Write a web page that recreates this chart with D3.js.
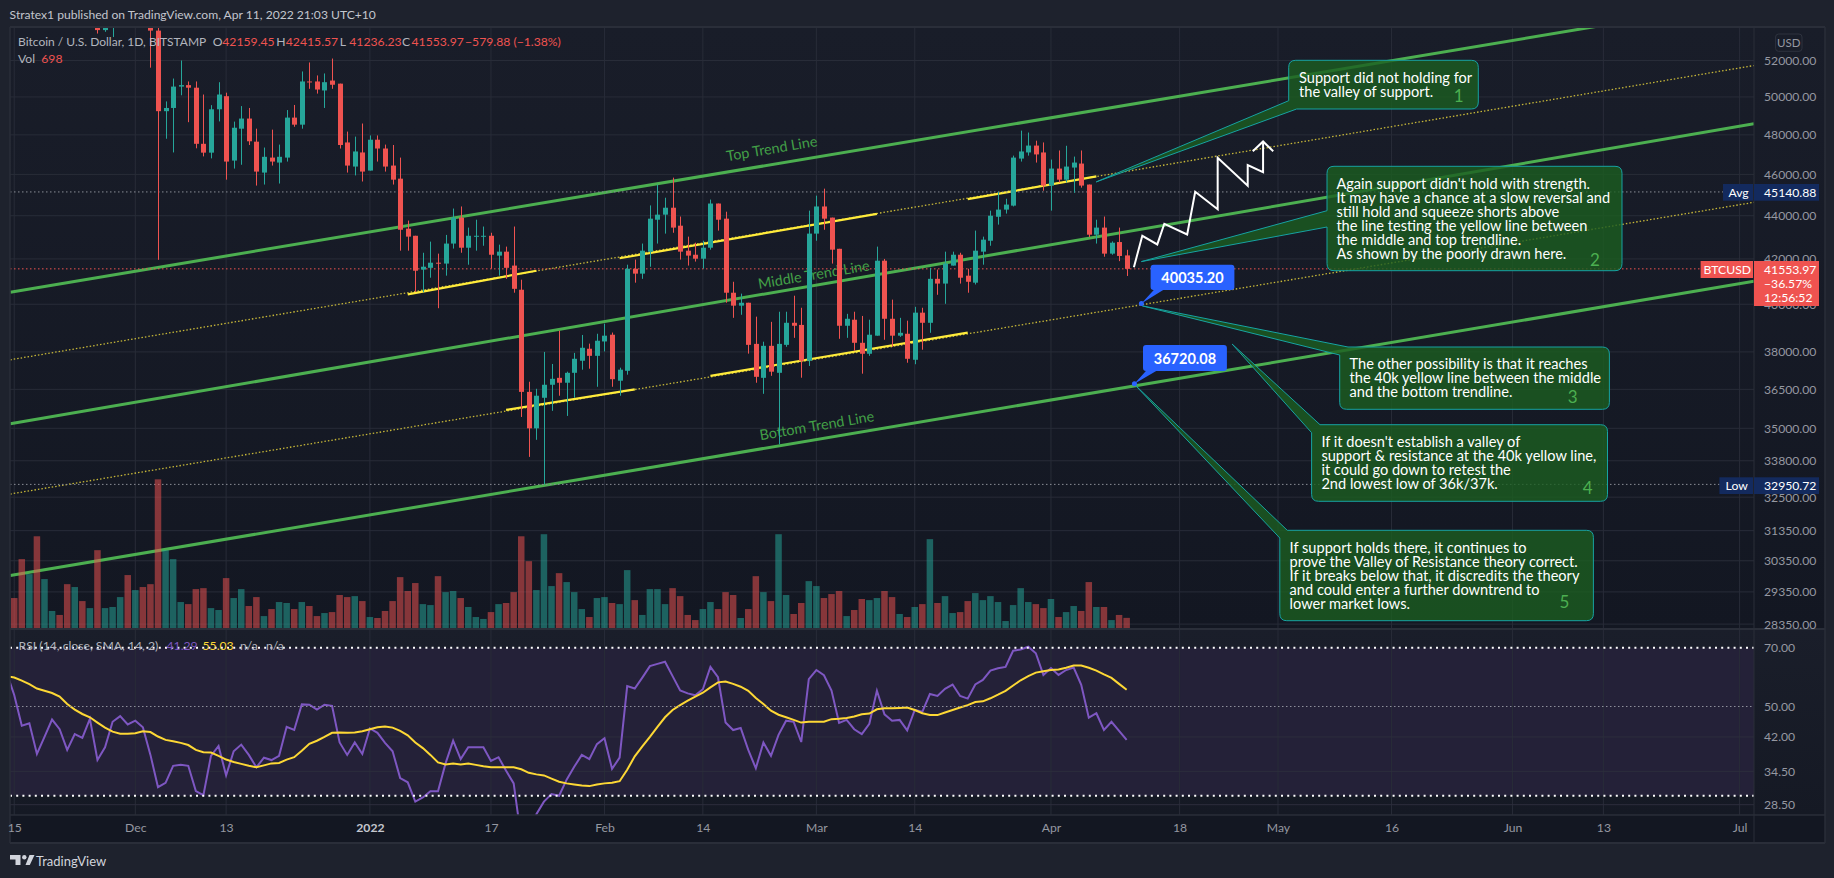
<!DOCTYPE html>
<html><head><meta charset="utf-8">
<script src="https://cdn.jsdelivr.net/npm/d3@7/dist/d3.min.js"></script>
<style>html,body{margin:0;padding:0;background:#1e222d;overflow:hidden}svg{display:block}text{font-family:Lato,"Open Sans",sans-serif}</style>
</head><body><svg id="c" width="1834" height="878"></svg>
<script>
// ---------- data ----------
const headerText = "Stratex1 published on TradingView.com, Apr 11, 2022 21:03 UTC+10";
const firstCandleDay = -16; // Nov 15 2021, in days from Dec 1 2021
const candleOpen = [65500,63600,60300,60400,56900,58100,59700,58700,56300,57600,57200,58900,53730,54700,57200,57800,
56950,57200,56500,53700,49240,49410,50560,50640,50500,47540,47090,49340,50040,46690,48320,48850,47650,46090,46840,46590,46840,48900,48530,50840,50840,50350,50890,50720,47610,46390,47100,
46190,47750,47300,46440,45790,43390,43060,41520,41600,41830,41790,42700,43910,42510,43020,43020,43060,42150,42330,41700,40630,36400,35000,36170,36680,36955,36760,37155,37640,38130,37840,
38430,38710,36840,37235,41560,41340,42330,43810,44050,44380,43530,42375,42190,42010,42510,44580,43860,40500,39940,40065,38330,36955,38250,37155,38290,39210,39120,37640,
43160,44440,43910,42460,39085,39340,38375,37925,38670,41920,39380,38670,38750,37680,39640,39210,41110,40900,41700,42190,41250,40940,42330,42830,43950,44290,44480,46790,47100,47450,47100,
45450,46290,45740,46340,46540,45500,43110,43440,42240,42770,42159.45];
const candleHigh = [66300,63600,61000,60900,58400,59900,60000,59500,58000,57800,59500,59200,55300,57400,58800,59200,
59000,57400,57600,53860,49760,51000,52000,50840,50840,50130,49560,50800,50230,48690,49510,49410,48320,47350,48270,47500,49300,49570,51390,51890,51170,51280,52110,50720,48170,47910,48590,
47970,47970,47500,47480,46840,43770,43060,42280,42790,42240,43100,44340,44440,43440,43810,43490,43200,42650,42560,43490,41070,36800,36520,38000,37510,38880,37200,37960,38700,38340,38750,
39170,38800,37360,41740,41970,42700,44490,45500,44860,45840,43960,43020,42740,42830,44770,44580,44190,40980,40460,40065,39470,38420,39250,39680,39680,40370,39850,44240,
44960,45300,43910,42460,39590,39680,39500,39340,42560,42000,40200,39420,39300,39890,39850,41600,41520,42330,42330,42280,41560,43300,43020,44240,45150,44810,46940,48220,48120,47700,47610,
46740,47200,47440,46890,47200,45500,43810,43960,42800,43440,42415.57];
const candleLow = [63500,58600,58400,56500,55600,57400,58500,55700,55400,55900,57000,53530,53630,53330,56700,55900,
56500,55800,51600,41960,47800,47100,50090,48660,47310,46900,46800,48700,45740,46290,46480,47480,45450,45500,46440,45550,46640,48420,48320,50440,50180,49410,50440,47300,46090,45950,45650,
46190,46640,46140,45500,42375,42375,40540,40520,41160,39830,41250,42470,42280,41740,42375,42600,41560,41250,41110,40500,35430,33940,34570,32950,35665,36250,35470,36170,37280,37320,36600,
38020,36600,36250,37080,40940,41110,41650,42700,43160,43200,41970,41700,41880,41560,42420,43300,40065,39420,39550,37930,36760,36325,37035,34400,38210,38580,36960,37430,
42830,43340,41790,38540,38580,38050,37120,37840,38670,38500,38210,38620,37560,37500,38090,38790,40410,40020,41700,40900,40500,40860,41740,42600,43580,44100,44440,46640,46940,46590,45200,
44240,45600,45600,45100,45350,43000,42700,42100,42190,41900,41236.23];
const candleClose = [63600,60300,60400,56900,58100,59700,58700,56300,57600,57200,58900,53730,54700,57200,57800,56950,
57200,56500,53700,49240,49410,50560,50640,50500,47540,47090,49340,50130,46640,48370,48850,47670,46140,46880,46640,46880,48900,48530,50840,50790,50400,50800,50660,47480,46440,47150,46140,
47750,47300,46390,45740,43340,43020,41470,41650,41830,41790,42700,43910,42510,43060,43060,43060,42190,42330,41600,40670,36400,35000,36250,36680,36915,36760,37155,37720,38170,37840,38460,
38670,36900,37280,41560,41340,42375,43860,44050,44380,43440,42330,42150,42010,42510,44580,43810,40500,39940,40065,38290,36995,38250,37200,38330,39210,39085,37640,43160,
44440,43860,42420,39085,39380,38375,37925,38710,41920,39380,38670,38790,37720,39640,39210,41110,40900,41790,42190,41160,40980,42375,42880,44000,44290,44530,46840,47150,47450,47000,45450,
46290,45740,46390,46590,45450,43110,43440,42240,42740,42133.85,41553.97];
const volumes = [1940,4380,3440,5810,3130,1130,880,2810,2630,1750,1310,4940,1310,1380,2000,3380,
2440,2630,2810,9380,4940,4380,1690,1560,2500,2560,1310,1190,3190,1940,2500,1440,2000,810,1250,1690,1630,1250,1690,1440,810,1000,1060,2130,2000,2060,1750,
750,690,1130,1750,3250,2380,2880,1560,1500,3310,2310,2380,1940,1380,750,630,1060,1560,1630,2310,5810,4250,2440,5940,2690,3500,2940,2310,1250,750,1940,
2000,1630,1560,3690,1810,880,2500,2500,1560,2560,2060,880,560,1250,1690,1250,2310,2130,690,1250,3310,2310,1750,5940,2130,940,1630,3000,
2690,1940,2190,2380,810,1190,1880,1810,1940,2380,2000,940,750,1380,1560,5630,1630,2060,1000,1060,1750,2250,1810,2060,1690,500,1500,2560,1690,1560,1310,
1880,750,1060,1440,1130,2940,1380,1380,560,880,698];
const firstRsiDay = -17; // Nov 14 2021
const rsiValues = [60.7,53.4,44.8,45.4,38.1,42.0,46.4,43.9,39.0,42.7,41.8,46.6,36.8,39.6,45.8,47.3,45.1,
46.1,44.4,37.9,31.5,32.3,35.6,35.8,35.6,30.8,30.1,37.7,39.9,33.7,38.7,40.2,37.9,35.3,37.3,36.8,37.7,44.5,43.7,50.6,50.5,49.1,50.5,50.2,40.7,37.9,40.7,38.1,
44.1,43.0,40.6,38.7,33.2,32.4,29.0,29.7,30.8,30.8,36.1,41.1,37.0,39.6,39.6,39.6,36.6,37.4,34.6,32.2,23.5,22.0,27.0,29.0,30.3,30.0,32.9,35.4,37.9,37.0,40.3,
41.7,35.0,37.3,56.2,55.4,59.0,63.0,63.8,64.6,59.5,54.8,53.9,53.3,55.2,62.7,59.1,45.6,43.7,44.2,39.0,35.1,40.7,37.7,42.5,46.1,45.8,40.8,58.5,
61.6,59.8,54.8,45.5,46.3,43.9,42.7,45.3,54.7,47.8,46.1,46.3,43.6,49.0,48.5,53.7,53.1,55.3,56.7,53.1,52.3,56.7,58.2,61.4,62.2,62.7,68.8,69.3,70.4,67.8,59.9,
62.3,59.9,61.6,62.5,56.6,46.9,48.1,43.7,45.8,43.5,41.29];
const rsiSmaValues = [59.5,59.0,58.0,56.8,55.4,54.7,54.0,52.9,50.7,49.1,47.9,47.0,45.6,44.3,43.3,42.8,42.8,
42.9,43.4,43.2,42.1,41.3,41.0,40.6,40.1,39.0,38.5,38.4,37.7,36.9,36.4,36.0,35.6,35.3,35.7,36.1,36.2,36.9,37.4,38.8,40.4,41.1,42.0,43.0,43.1,43.0,43.1,43.4,
43.9,44.4,44.6,44.3,43.5,42.4,40.7,39.4,37.9,36.3,35.9,36.1,35.9,36.1,35.8,35.5,35.3,35.3,35.3,35.3,34.9,34.2,33.9,33.7,33.1,32.5,32.2,32.0,31.8,31.7,32.0,
32.2,32.3,32.6,34.8,37.6,39.8,42.0,44.5,47.0,49.0,50.4,51.7,52.9,54.1,55.8,57.4,57.7,56.9,56.0,54.7,52.5,50.7,48.8,47.7,47.0,46.3,45.6,45.8,
45.8,45.8,46.5,46.6,46.8,47.2,47.8,48.0,49.2,49.5,49.5,49.6,49.7,49.0,48.1,47.6,47.6,48.3,49.0,49.7,50.4,51.3,51.5,52.4,53.5,54.7,56.4,58.1,59.5,60.7,61.2,
61.6,61.8,62.4,63.2,63.2,62.4,61.4,60.1,58.9,56.9,55.03];
const priceTicks = [52000,50000,48000,46000,44000,42000,40000,38000,36500,35000,33800,32500,31350,30350,29350,28350];
const rsiTicks = [70,50,42,34.5,28.5];
const timeTickDays = [-16,0,12,31,47,62,75,90,103,121,138,151,166,182,194,212];
const timeTickLabels = ["15","Dec","13","2022","17","Feb","14","Mar","14","Apr","18","May","16","Jun","13","Jul"];
// trend lines: [[day, price],[day, price]]
const channelDays = [-16.52, 213.9];
const topTrend = [40524,55500], middleTrend = [35170,48580], bottomTrend = [29870,41000];
const upperDotted = [37680,51720], lowerDotted = [32610,44640];
const yellowSegments = [[[36,40430],[53,41470]],[[49,35700],[66,36500]],[[64,42030],[98,44090]],[[110,44790],[127,45900]],[[76,37030],[110,38800]]];
const zigzag = [[131.96,41630],[133.07,43060],[135.05,42660],[135.98,43620],[139,43120],[140.06,45150],[143.03,44310],[143.03,46830],[147,45440],[147,46460],[149.03,46110],[149.03,47660]];
const zigzagHead = [[147.67,47160],[149.03,47660],[150.37,47160]];
const avgPrice = 45140.88, lowPrice = 32950.72, lastPrice = 41553.97;
const notes = [
 {box:[1288.7,60.3,1478.3,109],corner:"bl",a:[1288.7,100.7],b:[1296.6,109],tip:[126.98,45630],tx:1299,ty:77.3,num:"1",nx:1458.6,ny:95,
  lines:["Support did not holding for","the valley of support."]},
 {box:[1327,166.3,1622,270.7],corner:"l",a:[1327,210.7],b:[1327,227],tip:[132.95,41880],tx:1336.4,ty:183.3,num:"2",nx:1594.9,ny:259.3,
  lines:["Again support didn't hold with strength.","It may have a chance at a slow reversal and","still hold and squeeze shorts above","the line testing the yellow line between","the middle and top trendline.","As shown by the poorly drawn here."]},
 {box:[1339.7,347,1609.4,409.3],corner:"tl",a:[1339.7,355],b:[1348,347],tip:[133.07,39930],tx:1349.5,ty:363.3,num:"3",nx:1572.8,ny:396.7,
  lines:["The other possibility is that it reaches","the 40k yellow line between the middle","and the bottom trendline."]},
 {box:[1311.6,424.7,1607.5,501.3],corner:"tl",a:[1311.6,432.7],b:[1320,424.7],tip:[144.95,38320],tx:1321.4,ty:441.3,num:"4",nx:1587.8,ny:487.7,
  lines:["If it doesn't establish a valley of","support & resistance at the 40k yellow line,","it could go down to retest the","2nd lowest low of 36k/37k."]},
 {box:[1279.8,530.3,1593.4,620.7],corner:"tl",a:[1279.8,538],b:[1287.3,530.3],tip:[132.08,36680],tx:1289.6,ty:547.3,num:"5",nx:1564.4,ny:601.7,
  lines:["If support holds there, it continues to","prove the Valley of Resistance theory correct.","If it breaks below that, it discredits the theory","and could enter a further downtrend to","lower market lows."]}
];
const priceCallouts = [
 {label:"40035.20",day:132.95,price:40035.20,box:[1150.6,264.7,1234.4,290],base:[1153.8,1163.2]},
 {label:"36720.08",day:132.03,price:36720.08,box:[1143,345,1226.9,371],base:[1145.9,1156.2]}
];
// ---------- scales ----------
const FONT="Lato,'Open Sans',sans-serif";
const svg=d3.select("#c");
const day=d=>new Date(Date.UTC(2021,11,1)+d*864e5);
const x=d3.scaleUtc().domain([day(0),day(212)]).range([135.3,1739.6]);
const xd=d=>x(day(d));
const y=d3.scaleLog().domain([28350,52000]).range([624.1,60.5]);
const yV=d3.scaleLinear().domain([0,9400]).range([629,479]);
const yR=d3.scaleLog().domain([28.5,70]).range([804.7,647.7]);
const L=10,R=1754,PR=1825,T=27,MB=629,RB=815,TB=843;
// ---------- background ----------
const defs=svg.append("defs");
const grad=(id,a,b)=>{const g=defs.append("linearGradient").attr("id",id).attr("x1",0).attr("x2",0).attr("y1",0).attr("y2",1);
 g.append("stop").attr("offset",0).attr("stop-color",a);g.append("stop").attr("offset",1).attr("stop-color",b);};
grad("gMain","#191d29","#131722");grad("gRsi","#1a1e2a","#151924");
defs.append("clipPath").attr("id","cm").append("rect").attr("x",L).attr("y",T).attr("width",R-L).attr("height",MB-T);
defs.append("clipPath").attr("id","cr").append("rect").attr("x",L).attr("y",MB).attr("width",R-L).attr("height",RB-MB);
svg.append("rect").attr("width",1834).attr("height",878).attr("fill","#1e222d");
svg.append("rect").attr("x",L).attr("y",T).attr("width",PR-L).attr("height",MB-T).attr("fill","url(#gMain)");
svg.append("rect").attr("x",L).attr("y",MB).attr("width",PR-L).attr("height",RB-MB).attr("fill","url(#gRsi)");
svg.append("rect").attr("x",L).attr("y",RB).attr("width",PR-L).attr("height",TB-RB).attr("fill","#131722");
svg.append("rect").attr("x",L).attr("y",yR(70)).attr("width",R-L).attr("height",yR(30)-yR(70)).attr("fill","#242138");
// grid
const GRID="#282c38";
const grid=svg.append("g");
grid.selectAll("line.v").data(timeTickDays).join("line").attr("x1",d=>xd(d)).attr("x2",d=>xd(d)).attr("y1",T).attr("y2",RB).attr("stroke",GRID);
grid.selectAll("line.hm").data(priceTicks).join("line").attr("class","hm").attr("x1",L).attr("x2",R).attr("y1",d=>y(d)).attr("y2",d=>y(d)).attr("stroke",GRID);
grid.selectAll("line.hr").data(rsiTicks.filter(d=>d!==70&&d!==50)).join("line").attr("class","hr").attr("x1",L).attr("x2",R).attr("y1",d=>yR(d)).attr("y2",d=>yR(d)).attr("stroke","#2d2e3d");
// ---------- drawings under the series ----------
const main=svg.append("g").attr("clip-path","url(#cm)");
const lineP=d3.line().x(d=>xd(d[0])).y(d=>y(d[1]));
const chan=p=>[[channelDays[0],p[0]],[channelDays[1],p[1]]];
[upperDotted,lowerDotted].forEach(p=>main.append("path").attr("d",lineP(chan(p))).attr("stroke","#e6d43c").attr("stroke-opacity",.85).attr("stroke-width",1.3).attr("stroke-dasharray","1.5 2").attr("fill","none"));
[topTrend,middleTrend,bottomTrend].forEach(p=>main.append("path").attr("d",lineP(chan(p))).attr("stroke","#4caf50").attr("stroke-width",3).attr("fill","none"));
yellowSegments.forEach(s=>main.append("path").attr("d",lineP(s)).attr("stroke","#ffeb3b").attr("stroke-width",2.2).attr("fill","none"));
[[avgPrice,"#8a8d96"],[lowPrice,"#8a8d96"],[lastPrice,"#ef5350"]].forEach(([p,c])=>main.append("line").attr("x1",L).attr("x2",R).attr("y1",y(p)).attr("y2",y(p)).attr("stroke",c).attr("stroke-width",1).attr("stroke-dasharray","1.5 2.5"));
const trendLabels=[["Top Trend Line",772,150],["Middle Trend Line",814,276],["Bottom Trend Line",817,427]];
trendLabels.forEach(([t,a,b])=>main.append("text").text(t).attr("transform",`translate(${a},${b}) rotate(-9.5)`).attr("text-anchor","middle").attr("dominant-baseline","middle").attr("fill","#43a047").attr("font-size",14.4));
// ---------- series ----------
const RED="#ef5350",GRN="#26a69a";
const candles=candleOpen.map((o,i)=>({d:firstCandleDay+i,o,h:candleHigh[i],l:candleLow[i],c:candleClose[i],v:volumes[i]}));
main.selectAll("rect.vol").data(candles).join("rect").attr("class","vol")
 .attr("x",d=>xd(d.d)-3.25).attr("width",6.5).attr("y",d=>yV(d.v)).attr("height",d=>yV(0)-yV(d.v))
 .attr("fill",d=>d.c>=d.o?GRN:RED).attr("fill-opacity",.52);
main.selectAll("line.wick").data(candles).join("line").attr("class","wick")
 .attr("x1",d=>Math.round(xd(d.d))+.5).attr("x2",d=>Math.round(xd(d.d))+.5).attr("y1",d=>y(d.h)).attr("y2",d=>y(d.l))
 .attr("stroke",d=>d.c>=d.o?GRN:RED).attr("stroke-width",1);
main.selectAll("rect.body").data(candles).join("rect").attr("class","body")
 .attr("x",d=>Math.round(xd(d.d))-2).attr("width",5).attr("y",d=>y(Math.max(d.o,d.c))).attr("height",d=>Math.max(1,Math.abs(y(d.o)-y(d.c))))
 .attr("fill",d=>d.c>=d.o?GRN:RED);
// ---------- RSI ----------
const rsiG=svg.append("g").attr("clip-path","url(#cr)");
[[70,"#fff",2,"2 4.2"],[30,"#fff",2,"2 4.2"],[50,"#8f919c",1,"1.5 2.5"]].forEach(([v,c,w,da])=>
 svg.append("line").attr("x1",L).attr("x2",R).attr("y1",yR(v)).attr("y2",yR(v)).attr("stroke",c).attr("stroke-width",w).attr("stroke-dasharray",da));
const lineR=d3.line().x((d,i)=>xd(firstRsiDay+i)).y(d=>yR(d));
rsiG.append("path").attr("d",lineR(rsiValues)).attr("fill","none").attr("stroke","#7e57c2").attr("stroke-width",2);
rsiG.append("path").attr("d",lineR(rsiSmaValues)).attr("fill","none").attr("stroke","#fdd835").attr("stroke-width",2);
// ---------- frames ----------
const FR="#2a2e39";
[[L,MB,PR,MB,2],[L,RB,PR,RB,1.5],[L,TB,PR,TB,2],[R,T,R,TB,1],[L,T,PR,T,2],[L,T,L,TB,1.5],[PR,T,PR,TB,1.5]].forEach(([a,b,c,e,w])=>
 svg.append("line").attr("x1",a).attr("y1",b).attr("x2",c).attr("y2",e).attr("stroke",FR).attr("stroke-width",w));
// ---------- zigzag + notes ----------
const over=svg.append("g").attr("clip-path","url(#cm)");
over.append("path").attr("d",lineP(zigzag)).attr("fill","none").attr("stroke","#fff").attr("stroke-width",2);
over.append("path").attr("d",lineP(zigzagHead)).attr("fill","none").attr("stroke","#fff").attr("stroke-width",2);
notes.forEach(n=>{
 const [x0,y0,x1,y1]=n.box,r=7,tx=xd(n.tip[0]),ty=y(n.tip[1]);
 let p="";
 if(n.corner==="bl") p=`M${x0+r},${y0}H${x1-r}Q${x1},${y0} ${x1},${y0+r}V${y1-r}Q${x1},${y1} ${x1-r},${y1}H${n.b[0]}L${tx},${ty}L${n.a[0]},${n.a[1]}V${y0+r}Q${x0},${y0} ${x0+r},${y0}Z`;
 if(n.corner==="l")  p=`M${x0+r},${y0}H${x1-r}Q${x1},${y0} ${x1},${y0+r}V${y1-r}Q${x1},${y1} ${x1-r},${y1}H${x0+r}Q${x0},${y1} ${x0},${y1-r}V${n.b[1]}L${tx},${ty}L${n.a[0]},${n.a[1]}V${y0+r}Q${x0},${y0} ${x0+r},${y0}Z`;
 if(n.corner==="tl") p=`M${n.b[0]},${n.b[1]}H${x1-r}Q${x1},${y0} ${x1},${y0+r}V${y1-r}Q${x1},${y1} ${x1-r},${y1}H${x0+r}Q${x0},${y1} ${x0},${y1-r}V${n.a[1]}L${tx},${ty}Z`;
 over.append("path").attr("d",p).attr("fill","#1b5e20").attr("fill-opacity",.8).attr("stroke","#17a2a2").attr("stroke-width",1);
 const t=over.append("g");
 n.lines.forEach((s,i)=>t.append("text").text(s).attr("x",n.tx).attr("y",n.ty+i*14).attr("dominant-baseline","central").attr("fill","#fff").attr("font-size",14.6));
 t.append("text").text(n.num).attr("x",n.nx).attr("y",n.ny).attr("text-anchor","middle").attr("dominant-baseline","central").attr("fill","#4caf50").attr("font-size",17);
});
priceCallouts.forEach(c=>{
 const [x0,y0,x1,y1]=c.box,tx=xd(c.day),ty=y(c.price);
 over.append("path").attr("d",`M${x0+3},${y0}H${x1-3}Q${x1},${y0} ${x1},${y0+3}V${y1-3}Q${x1},${y1} ${x1-3},${y1}H${c.base[1]}L${tx},${ty}L${c.base[0]},${y1}H${x0+3}Q${x0},${y1} ${x0},${y1-3}V${y0+3}Q${x0},${y0} ${x0+3},${y0}Z`).attr("fill","#2962ff");
 over.append("circle").attr("cx",tx).attr("cy",ty).attr("r",2.5).attr("fill","#2962ff");
 over.append("text").text(c.label).attr("x",(x0+x1)/2).attr("y",(y0+y1)/2).attr("text-anchor","middle").attr("dominant-baseline","central").attr("fill","#fff").attr("font-size",14.5).attr("font-weight",700);
});
// ---------- axes ----------
const AX="#9598a1";
const styleAxis=g=>{g.select(".domain").remove();g.selectAll("line").remove();g.selectAll("text").attr("font-family",FONT).attr("font-size",12.2).attr("fill",AX);};
svg.append("g").attr("transform",`translate(${R},0)`).call(d3.axisRight(y).tickValues(priceTicks).tickFormat(d3.format(".2f")).tickSize(0).tickPadding(10)).call(styleAxis);
svg.append("g").attr("transform",`translate(${R},0)`).call(d3.axisRight(yR).tickValues(rsiTicks).tickFormat(d3.format(".2f")).tickSize(0).tickPadding(10)).call(styleAxis);
svg.append("g").attr("transform",`translate(0,${RB})`).call(d3.axisBottom(x).tickValues(timeTickDays.map(day)).tickFormat((d,i)=>timeTickLabels[i]).tickSize(0).tickPadding(8)).call(styleAxis)
 .call(g=>g.selectAll("text").filter((d,i)=>timeTickLabels[i]==="2022").attr("fill","#c3c6ce").attr("font-weight",700));
svg.append("rect").attr("x",1775.6).attr("y",34).attr("width",26.4).attr("height",17.3).attr("rx",3).attr("fill","none").attr("stroke","#2e323e");
const txt=(s,a,b,c,sz=12.2,o={})=>{const t=svg.append("text").text(s).attr("x",a).attr("y",b).attr("fill",c).attr("font-size",sz).attr("dominant-baseline","central");Object.entries(o).forEach(([k,v])=>t.attr(k,v));return t;};
txt("USD",1788.8,42.7,AX,11.5,{"text-anchor":"middle"});
// price tags
const tag=(x0,y0,y1,fill,label,ys)=>{
 svg.append("rect").attr("x",x0).attr("y",y0).attr("width",R-x0-1).attr("height",y1-y0).attr("fill",fill);
 svg.append("rect").attr("x",R).attr("y",y0).attr("width",65).attr("height",ys.length>1?45:y1-y0).attr("fill",fill);
 txt(label,(x0+R)/2,(y0+y1)/2,"#fff",12.2,{"text-anchor":"middle"});
};
tag(1723,184,200.7,"#132a5e","Avg",[0]);
txt("45140.88",1764,192.3,"#fff");
tag(1719.4,477.3,494,"#132a5e","Low",[0]);
txt("32950.72",1764,485.5,"#fff");
tag(1700.6,261,278,"#ef5350","BTCUSD",[0,1,2]);
txt("41553.97",1764,269.5,"#fff");txt("\u221236.57%",1764,283.7,"#fff");txt("12:56:52",1764,297.5,"#fff");
// ---------- header + legends ----------
txt(headerText,9.6,14.7,"#c3c6ce",12.1);
txt("Bitcoin / U.S. Dollar, 1D, BITSTAMP",18,41.7,"#b2b5be",12);
[["O",212.8,"42159.45"],["H",276.3,"42415.57"],["L",339.8,"41236.23"],["C",402,"41553.97"]].forEach(([a,px,v])=>{txt(a,px,41.7,"#b2b5be");txt(v,px+9.5,41.7,RED);});
txt("\u2212579.88 (\u22121.38%)",465,41.7,RED);
txt("Vol",18,58.7,"#b2b5be");txt("698",41.3,58.7,RED);
txt("RSI (14, close, SMA, 14, 2)",18.6,645,"#b2b5be");txt("41.29",166.5,645,"#7e57c2");txt("55.03",202.5,645,"#fdd835");txt("n/a",240,645,"#b2b5be");txt("n/a",266,645,"#b2b5be");
// logo
svg.append("path").attr("d","M10,855H20.5V865H15.5V859.5H10Z M25.5,865L29.5,855H34.5L29.8,865Z").attr("fill","#d1d4dc");
svg.append("circle").attr("cx",24.3).attr("cy",857.3).attr("r",2.2).attr("fill","#d1d4dc");
txt("TradingView",36,860.7,"#d1d4dc",13);
</script></body></html>
